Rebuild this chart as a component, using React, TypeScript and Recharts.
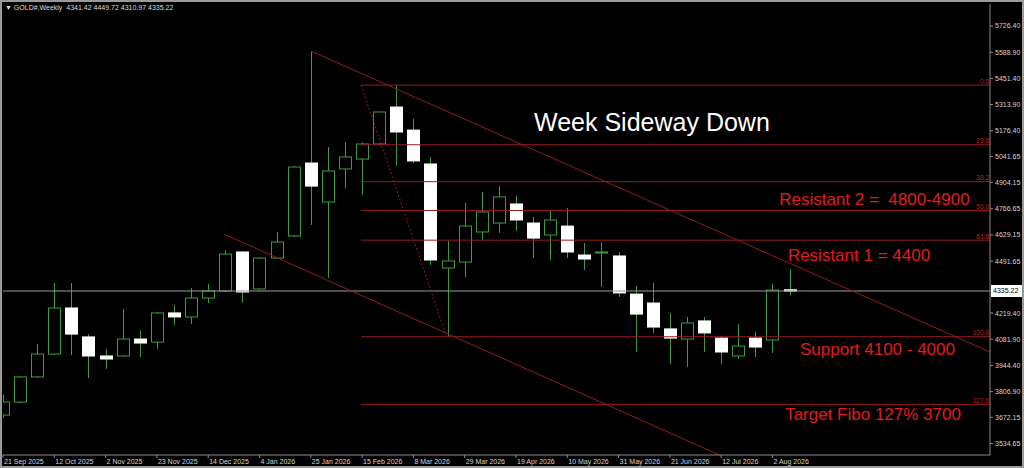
import {
  Bar,
  ComposedChart,
  ReferenceDot,
  ReferenceLine,
  XAxis,
  YAxis
} from "recharts";

// weekly candles, GOLD#
const weeks = [
  "21 Sep 2025", "28 Sep 2025", "5 Oct 2025", "12 Oct 2025", "19 Oct 2025", "26 Oct 2025",
  "2 Nov 2025", "9 Nov 2025", "16 Nov 2025", "23 Nov 2025", "30 Nov 2025", "7 Dec 2025",
  "14 Dec 2025", "21 Dec 2025", "28 Dec 2025", "4 Jan 2026", "11 Jan 2026", "18 Jan 2026",
  "25 Jan 2026", "1 Feb 2026", "8 Feb 2026", "15 Feb 2026", "22 Feb 2026", "1 Mar 2026",
  "8 Mar 2026", "15 Mar 2026", "22 Mar 2026", "29 Mar 2026", "5 Apr 2026", "12 Apr 2026",
  "19 Apr 2026", "26 Apr 2026", "3 May 2026", "10 May 2026", "17 May 2026", "24 May 2026",
  "31 May 2026", "7 Jun 2026", "14 Jun 2026", "21 Jun 2026", "28 Jun 2026", "5 Jul 2026",
  "12 Jul 2026", "19 Jul 2026", "26 Jul 2026", "2 Aug 2026", "9 Aug 2026"
];

const open = [
  3684, 3752, 3884, 4004, 4246, 4094, 3994, 3994, 4083, 4067, 4220, 4199, 4298, 4335, 4540, 4346,
  4508, 4624, 5007, 4802, 4976, 5028, 5107, 5301, 5180, 5002, 4456, 4487, 4645, 4692, 4792, 4692,
  4629, 4676, 4524, 4535, 4519, 4319, 4272, 4136, 4083, 4178, 4088, 3994, 4088, 4078, 4341.42
];
const high = [
  3790, 3890, 4057, 4377, 4377, 4109, 4031, 4241, 4130, 4225, 4262, 4351, 4372, 4550, 4545, 4513,
  4645, 4991, 5595, 5091, 5117, 5115, 5277, 5416, 5238, 5039, 4598, 4797, 4855, 4886, 4834, 4724,
  4760, 4771, 4587, 4592, 4540, 4361, 4377, 4220, 4199, 4199, 4099, 4162, 4120, 4372, 4449.72
];
const low = [
  3668, 3745, 3880, 3999, 3999, 3878, 3926, 3990, 3989, 4031, 4157, 4162, 4272, 4330, 4272, 4340,
  4505, 4619, 4682, 4403, 4876, 4839, 5100, 4991, 5007, 4472, 4094, 4409, 4603, 4640, 4650, 4508,
  4498, 4508, 4445, 4356, 4304, 4015, 4115, 3952, 3936, 4015, 3952, 3978, 3989, 4010, 4310.97
];
const close = [
  3752, 3884, 4004, 4246, 4109, 3994, 3978, 4083, 4062, 4220, 4199, 4298, 4335, 4529, 4330, 4508,
  4592, 4986, 4886, 4965, 5039, 5107, 5275, 5170, 5018, 4498, 4493, 4676, 4750, 4829, 4708, 4613,
  4708, 4540, 4503, 4540, 4325, 4214, 4146, 4088, 4167, 4115, 4015, 4046, 4041, 4340, 4335.22
];

// the 4354.15 label sits under the bid box in the terminal, so it is left out
const priceTicks = [
  5726.4, 5588.9, 5451.4, 5313.9, 5176.4, 5041.65, 4904.15, 4766.65, 4629.15, 4491.65,
  4219.4, 4081.9, 3944.4, 3806.9, 3672.15, 3534.65
];
const dateTicks = [0, 3, 6, 9, 12, 15, 18, 21, 24, 27, 30, 33, 36, 39, 42, 45];

const fiboLevels = ["0.0", "23.6", "38.2", "50.0", "61.8", "100.0", "127.0"];
const fiboPrices = [5416, 5103, 4909, 4758, 4602, 4095, 3740];
const fiboStart = 20.94;
const fiboEnd = 25.94;

const notes = [
  "Week Sideway Down",
  "Resistant 2 =  4800-4900",
  "Resistant 1 = 4400",
  "Support 4100 - 4000",
  "Target Fibo 127% 3700"
];
const noteWeeks = [37.95, 50.96, 50.06, 51.14, 50.88];
const notePrices = [5222, 4818, 4524, 4030, 3689];
const noteColors = ["#ffffff", "#e31b1b", "#e31b1b", "#e31b1b", "#e31b1b"];
const noteSizes = [25, 17, 17, 17, 17];

const lastPrice = 4335.22;
const header = "GOLD#,Weekly  4341.42 4449.72 4310.97 4335.22";

const GREEN = "#3a9c3a";
const DARK_RED = "#951c1c";
const AXIS = "#8a8a8a";
const TEXT = "#d4d4d4";
const FONT = "Liberation Sans, Arial, sans-serif";

const X_MAX = 57.72;

const candles = weeks.map((week, i) => ({
  idx: i,
  week,
  open: open[i],
  high: high[i],
  low: low[i],
  close: close[i],
  range: [low[i], high[i]]
}));

function Candle(props: any) {
  const { x, y, width, height, payload } = props;
  if (x == null || y == null) return null;
  const top = Math.min(y, y + height);
  const h = Math.abs(height);
  const span = payload.high - payload.low || 1;
  const py = (v: number) => top + ((payload.high - v) / span) * h;
  const cx = Math.round(x + width / 2) + 0.5;
  const up = payload.close >= payload.open;
  const bodyTop = py(Math.max(payload.open, payload.close));
  const bodyBottom = py(Math.min(payload.open, payload.close));
  return (
    <g>
      <line x1={cx} x2={cx} y1={top} y2={top + h} stroke={GREEN} strokeWidth={1} />
      <rect
        x={cx - 6}
        y={bodyTop}
        width={12}
        height={Math.max(1, bodyBottom - bodyTop)}
        fill={up ? "#000" : "#fff"}
        stroke={up ? GREEN : "#fff"}
        strokeWidth={1}
      />
    </g>
  );
}

function DateTick(props: any) {
  const { x, y, payload } = props;
  return (
    <text x={x + 1} y={y} dy="0.71em" fill={TEXT} fontSize={7} fontFamily={FONT} textAnchor="start">
      {weeks[payload.value]}
    </text>
  );
}

function fiboLabel(text: string) {
  return (p: any) => {
    const vb = p.viewBox || {};
    return (
      <text
        x={vb.x + vb.width - 1}
        y={vb.y - 1.5}
        fill="#c42020"
        fontSize={6.5}
        fontFamily={FONT}
        textAnchor="end"
      >
        {text}
      </text>
    );
  };
}

function PriceBox(p: any) {
  const vb = p.viewBox || {};
  const right = vb.x + vb.width;
  return (
    <g>
      <rect x={right + 1} y={vb.y - 6} width={33} height={12} fill="#fff" />
      <text
        x={right + 3}
        y={vb.y}
        dy="0.355em"
        fill="#000"
        fontSize={7}
        fontFamily={FONT}
        textAnchor="start"
      >
        {lastPrice.toFixed(2)}
      </text>
    </g>
  );
}

function noteShape(i: number) {
  return (p: any) => (
    <text
      x={p.cx}
      y={p.cy}
      dy="0.35em"
      textAnchor="middle"
      fill={noteColors[i]}
      fontSize={noteSizes[i]}
      fontFamily={FONT}
      style={{ whiteSpace: "pre" }}
    >
      {notes[i]}
    </text>
  );
}

export default function App() {
  return (
    <div
      style={{
        position: "absolute",
        left: 0,
        top: 0,
        width: 1024,
        height: 468,
        background: "#000",
        overflow: "hidden"
      }}
    >
      <ComposedChart
        width={1024}
        height={468}
        data={candles}
        margin={{ top: 4, right: 0, bottom: 0, left: 3 }}
      >
        <XAxis
          dataKey="idx"
          type="number"
          domain={[0, X_MAX]}
          allowDataOverflow
          ticks={dateTicks}
          interval={0}
          height={13}
          tickSize={3}
          tickMargin={1}
          axisLine={{ stroke: AXIS }}
          tickLine={{ stroke: AXIS }}
          tick={<DateTick />}
        />
        <YAxis
          orientation="right"
          type="number"
          domain={[3474.15, 5841.9]}
          allowDataOverflow
          ticks={priceTicks}
          interval={0}
          width={34}
          tickSize={3}
          tickMargin={2}
          axisLine={{ stroke: AXIS }}
          tickLine={{ stroke: AXIS }}
          tick={{ fill: TEXT, fontSize: 7, fontFamily: FONT }}
          tickFormatter={(v: number) => v.toFixed(2)}
        />

        {/* current bid line */}
        <ReferenceLine y={lastPrice} stroke="#9a9a9a" strokeWidth={1} label={PriceBox} />

        {/* channel */}
        <ReferenceLine
          segment={[{ x: 18, y: 5595 }, { x: X_MAX, y: 4015 }]}
          stroke={DARK_RED}
          strokeWidth={1}
          ifOverflow="hidden"
        />
        <ReferenceLine
          segment={[{ x: 12.94, y: 4633 }, { x: 42, y: 3470 }]}
          stroke={DARK_RED}
          strokeWidth={1}
          ifOverflow="hidden"
        />

        {/* fibo retracement */}
        <ReferenceLine
          segment={[{ x: fiboStart, y: fiboPrices[0] }, { x: fiboEnd, y: fiboPrices[5] }]}
          stroke={DARK_RED}
          strokeDasharray="2 2"
          ifOverflow="hidden"
        />
        {fiboLevels.map((lvl, i) => (
          <ReferenceLine
            key={lvl}
            segment={[{ x: fiboStart, y: fiboPrices[i] }, { x: X_MAX, y: fiboPrices[i] }]}
            stroke={DARK_RED}
            strokeWidth={1}
            ifOverflow="hidden"
            label={fiboLabel(lvl)}
          />
        ))}

        <Bar dataKey="range" barSize={13} shape={Candle} isAnimationActive={false} />

        {notes.map((n, i) => (
          <ReferenceDot
            key={n}
            x={noteWeeks[i]}
            y={notePrices[i]}
            r={0}
            ifOverflow="visible"
            shape={noteShape(i)}
          />
        ))}
      </ComposedChart>

      <div
        style={{
          position: "absolute",
          left: 5,
          top: 3,
          color: "#dcdcdc",
          fontSize: 7,
          fontFamily: FONT,
          whiteSpace: "pre",
          lineHeight: "10px"
        }}
      >
        {"▼ " + header}
      </div>
      <div
        style={{
          position: "absolute",
          left: 0,
          top: 0,
          width: 1024,
          height: 468,
          boxSizing: "border-box",
          border: "2px solid #9a9a9a",
          pointerEvents: "none"
        }}
      />
    </div>
  );
}
